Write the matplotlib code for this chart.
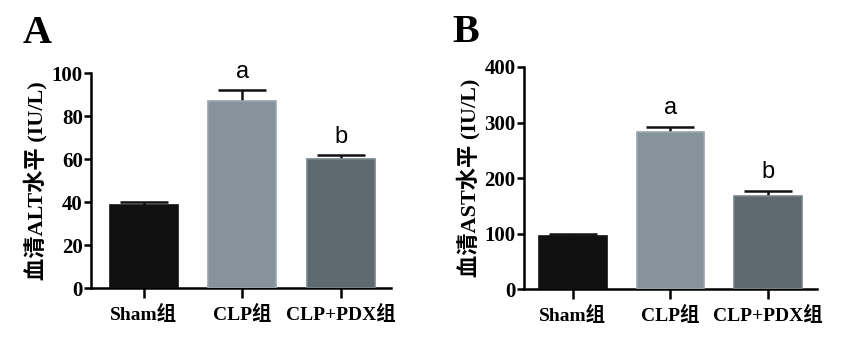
import numpy as np
import matplotlib.pyplot as plt

plt.rcParams['font.family'] = ['Liberation Serif', 'Noto Sans CJK SC']
plt.rcParams['font.weight'] = 'bold'

groups = ["Sham组", "CLP组", "CLP+PDX组"]
colors = ["#111111", "#86939b", "#5e6a70"]
edges = ["#111111", "#9aa6ad", "#7a858b"]

alt_mean = [38.5, 87, 60]
alt_err = [1.6, 5, 1.8]
ast_mean = [95, 283, 167]
ast_err = [5, 9, 10]
sig = ["", "a", "b"]

fig = plt.figure(figsize=(8.41, 3.45), dpi=100)

def panel(rect, means, errs, ymax, step, ylabel, xlim, letter, lpos):
    ax = fig.add_axes(rect)
    x = np.arange(len(groups))
    ax.bar(x, means, width=0.69, color=colors, edgecolor=edges, linewidth=1.2, zorder=3)
    # symmetric error bars drawn beneath the bars so only the upper half shows
    ax.errorbar(x, means, yerr=errs, fmt='none',
                ecolor='#111111', elinewidth=1.8, capsize=17, capthick=1.8, zorder=2)
    for i, s in enumerate(sig):
        if s:
            ax.text(x[i], means[i] + errs[i] + ymax * 0.035, s, ha='center', va='bottom',
                    fontsize=17, family='Liberation Sans', fontweight='normal')
    ax.set_xlim(*xlim)
    ax.set_ylim(0, ymax)
    ax.set_yticks(np.arange(0, ymax + 1, step))
    ax.set_xticks(x)
    ax.set_xticklabels(groups, fontsize=14, fontweight='bold')
    ax.tick_params(axis='y', labelsize=15, width=1.8, length=5, pad=1)
    ax.tick_params(axis='x', width=1.8, length=7, pad=5)
    for t in ax.get_yticklabels():
        t.set_fontweight('bold')
    for sp in ['top', 'right']:
        ax.spines[sp].set_visible(False)
    for sp in ['left', 'bottom']:
        ax.spines[sp].set_linewidth(1.8)
    ax.set_ylabel(ylabel, fontsize=16, fontweight='bold', labelpad=3)
    fig.text(lpos[0], lpos[1], letter, fontsize=29, fontweight='bold',
             family='Liberation Serif', ha='left', va='baseline')
    return ax

panel([0.1082, 0.1652, 0.3567, 0.6232], alt_mean, alt_err, 100, 20,
      "血清ALT水平 (IU/L)", (-0.538, 2.508), "A", (0.027, 0.875))
panel([0.623, 0.1623, 0.3485, 0.6435], ast_mean, ast_err, 400, 100,
      "血清AST水平 (IU/L)", (-0.503, 2.503), "B", (0.538, 0.877))

fig.savefig("out.png", dpi=100)
